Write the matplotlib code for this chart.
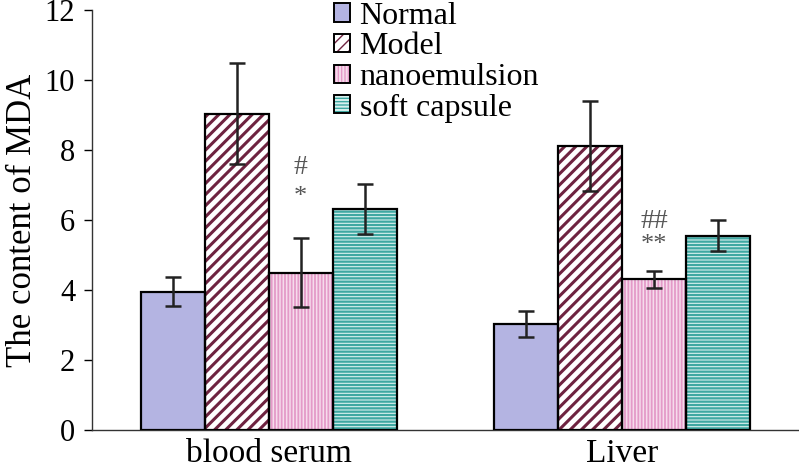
import numpy as np
import matplotlib
matplotlib.use('Agg')
import matplotlib.pyplot as plt
from matplotlib.patches import Patch

plt.rcParams['font.family'] = ['Liberation Serif', 'DejaVu Serif']

groups = ['blood serum', 'Liver']
series = ['Normal', 'Model', 'nanoemulsion', 'soft capsule']
means = {
    'Normal': [3.96, 3.02],
    'Model': [9.05, 8.12],
    'nanoemulsion': [4.50, 4.31],
    'soft capsule': [6.32, 5.56],
}
errs = {
    'Normal': [0.41, 0.37],
    'Model': [1.45, 1.28],
    'nanoemulsion': [0.98, 0.25],
    'soft capsule': [0.72, 0.44],
}
# significance marks over nanoemulsion: (text, height)
sig_star = [('*', 6.65), ('**', 5.3)]
sig_hash = [('#', 7.5), ('##', 5.96)]

# fill, hatch, hatch colour, hatch width
styles = {
    'Normal': ('#b4b4e2', '', 'none', 1.0),
    'Model': ('white', '///', '#6e2340', 2.2),
    'nanoemulsion': ('#f6dcec', '|||||', '#e49ac8', 1.3),
    'soft capsule': ('#d8f0ee', '-----', '#3fa8a2', 1.6),
}

fig = plt.figure(figsize=(7.99, 4.71), dpi=100)
ax = fig.add_axes([0.115, 0.087, 0.885, 0.891])

x = np.arange(len(groups))
w = 0.181
handles = []
for i, s in enumerate(series):
    pos = x + (i - 1.5) * w
    fc, hatch, hc, hw = styles[s]
    with plt.rc_context({'hatch.linewidth': hw, 'hatch.color': hc}):
        ax.bar(pos, means[s], w, color=fc, hatch=hatch, edgecolor=hc, linewidth=0, zorder=2)
        h1 = Patch(facecolor=fc, edgecolor=hc, hatch=hatch, linewidth=0)
    h2 = Patch(fill=False, edgecolor='black', linewidth=1.4)
    handles.append((h1, h2))
    ax.bar(pos, means[s], w, fill=False, edgecolor='black', linewidth=1.6, zorder=3)
    ax.errorbar(pos, means[s], yerr=errs[s], fmt='none', ecolor='#222222',
                elinewidth=1.8, capsize=6, capthick=1.8, zorder=4)
    if s == 'nanoemulsion':
        for j in range(len(groups)):
            ax.text(pos[j], sig_star[j][1], sig_star[j][0], ha='center', va='center',
                    fontsize=19, color='#555555')
            ax.text(pos[j], sig_hash[j][1], sig_hash[j][0], ha='center', va='center',
                    fontsize=20, color='#555555')

ax.set_xlim(-0.5, 1.5)
ax.set_ylim(0, 12)
ax.set_yticks(range(0, 13, 2))
ax.set_xticks(x)
ax.set_xticklabels(groups, fontsize=24)
ax.tick_params(axis='x', length=0, pad=6)
ax.tick_params(axis='y', labelsize=22, length=6, width=1, direction='out', pad=6)
for sp in ['top', 'right']:
    ax.spines[sp].set_visible(False)
for sp in ['left', 'bottom']:
    ax.spines[sp].set_linewidth(1)
    ax.spines[sp].set_color('#333333')
ax.set_ylabel('The content of MDA', fontsize=25, labelpad=4)

leg = ax.legend(handles, series, loc='upper left', bbox_to_anchor=(0.418, 0.996),
                bbox_transform=fig.transFigure, frameon=False, fontsize=23,
                handlelength=0.5, handleheight=0.5, handletextpad=0.3,
                labelspacing=0.05, borderaxespad=0, borderpad=0)

fig.savefig('out.png', dpi=100)
